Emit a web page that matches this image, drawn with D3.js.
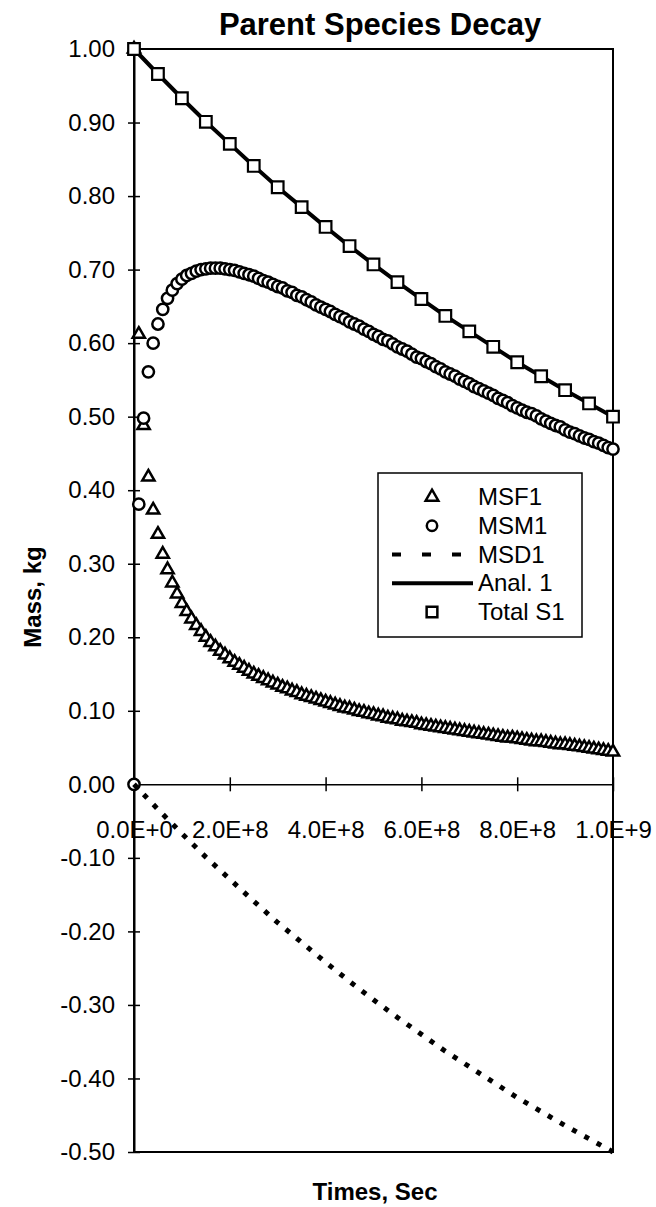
<!DOCTYPE html>
<html>
<head>
<meta charset="utf-8">
<script src="https://cdn.jsdelivr.net/npm/d3@7"></script>
<style>
  body { margin: 0; background: #fff; }
  text { font-family: "Liberation Sans", Arial, sans-serif; fill: #000; }
</style>
</head>
<body>
<div id="chart"></div>
<script>
var W = 656, H = 1207;

// time in units of 1e7 s
var tSteps = [0,1,2,3,4,5,6,7,8,9,10,11,12,13,14,15,16,17,18,19,20,
  21,22,23,24,25,26,27,28,29,30,31,32,33,34,35,36,37,38,39,40,
  41,42,43,44,45,46,47,48,49,50,51,52,53,54,55,56,57,58,59,60,
  61,62,63,64,65,66,67,68,69,70,71,72,73,74,75,76,77,78,79,80,
  81,82,83,84,85,86,87,88,89,90,91,92,93,94,95,96,97,98,99,100];

var msf1 = [1.000,0.612,0.488,0.418,0.373,0.340,0.313,0.292,0.274,0.259,0.246,
  0.235,0.225,0.216,0.208,0.200,0.193,0.187,0.181,0.176,0.171,
  0.166,0.162,0.158,0.154,0.150,0.147,0.144,0.141,0.138,0.135,
  0.132,0.130,0.127,0.125,0.122,0.120,0.118,0.116,0.114,0.112,
  0.110,0.108,0.106,0.104,0.103,0.101,0.099,0.098,0.096,0.095,
  0.093,0.092,0.090,0.089,0.088,0.086,0.085,0.084,0.083,0.081,
  0.080,0.079,0.078,0.077,0.076,0.075,0.074,0.073,0.072,0.071,
  0.070,0.069,0.068,0.067,0.066,0.065,0.064,0.063,0.063,0.062,
  0.061,0.060,0.059,0.058,0.058,0.057,0.056,0.055,0.054,0.054,
  0.053,0.052,0.051,0.050,0.049,0.048,0.047,0.046,0.045,0.044];

var msm1 = [0.000,0.381,0.498,0.561,0.600,0.626,0.646,0.661,0.672,0.681,0.687,
  0.692,0.695,0.698,0.700,0.701,0.702,0.702,0.702,0.701,0.700,
  0.699,0.697,0.695,0.693,0.691,0.688,0.685,0.683,0.680,0.677,
  0.675,0.671,0.669,0.665,0.663,0.659,0.656,0.652,0.649,0.646,
  0.643,0.639,0.636,0.633,0.629,0.626,0.623,0.619,0.616,0.612,
  0.609,0.605,0.603,0.599,0.595,0.592,0.589,0.585,0.581,0.579,
  0.575,0.572,0.568,0.565,0.561,0.558,0.555,0.551,0.548,0.545,
  0.541,0.538,0.535,0.532,0.529,0.525,0.522,0.519,0.515,0.512,
  0.509,0.506,0.504,0.501,0.497,0.494,0.491,0.488,0.486,0.482,
  0.479,0.477,0.474,0.471,0.469,0.466,0.464,0.461,0.458,0.456];

// coarser series, time in units of 1e7 s
var tTotal = [0,5,10,15,20,25,30,35,40,45,50,55,60,65,70,75,80,85,90,95,100];
var totalS1 = [1.000,0.966,0.933,0.901,0.871,0.841,0.812,0.785,0.758,0.732,0.707,
  0.683,0.660,0.637,0.616,0.595,0.574,0.555,0.536,0.518,0.500];
var anal1 = [1.000,0.966,0.933,0.901,0.871,0.841,0.812,0.785,0.758,0.732,0.707,
  0.683,0.660,0.637,0.616,0.595,0.574,0.555,0.536,0.518,0.500];
var msd1 = [0.000,-0.034,-0.067,-0.099,-0.129,-0.159,-0.188,-0.215,-0.242,-0.268,-0.293,
  -0.317,-0.340,-0.363,-0.384,-0.405,-0.426,-0.445,-0.464,-0.482,-0.500];

var xTicks = [0, 2e8, 4e8, 6e8, 8e8, 1e9];
var yTicks = [1.0,0.9,0.8,0.7,0.6,0.5,0.4,0.3,0.2,0.1,0.0,-0.1,-0.2,-0.3,-0.4,-0.5];
var legendLabels = ["MSF1","MSM1","MSD1","Anal. 1","Total S1"];

var svg = d3.select("#chart").append("svg").attr("width", W).attr("height", H);

var x = d3.scaleLinear().domain([0, 1e9]).range([134, 613]);
var y = d3.scaleLinear().domain([-0.5, 1.0]).range([1152, 49]);

function sci(d) {
  if (d === 0) return "0.0E+0";
  var e = Math.floor(Math.log10(d));
  return (d / Math.pow(10, e)).toFixed(1) + "E+" + e;
}

// frame
svg.append("rect")
  .attr("x", x(0)).attr("y", y(1))
  .attr("width", x(1e9) - x(0)).attr("height", y(-0.5) - y(1))
  .attr("fill", "none").attr("stroke", "#000").attr("stroke-width", 2);

// y axis
var yAx = svg.append("g").attr("transform", "translate(" + x(0) + ",0)")
  .call(d3.axisLeft(y).tickValues(yTicks).tickSizeInner(6).tickSizeOuter(0).tickPadding(13)
    .tickFormat(function(d) { return d.toFixed(2); }));
yAx.select(".domain").attr("stroke-width", 2);
yAx.selectAll(".tick line").attr("x1", 6).attr("x2", -6).attr("stroke-width", 1.5);
yAx.selectAll(".tick text").attr("font-size", 24).attr("font-family", "Liberation Sans, Arial");

// x axis at zero
var xAx = svg.append("g").attr("transform", "translate(0," + y(0) + ")")
  .call(d3.axisBottom(x).tickValues(xTicks).tickSizeInner(6).tickSizeOuter(0).tickPadding(31)
    .tickFormat(sci));
xAx.select(".domain").attr("stroke-width", 1.5);
xAx.selectAll(".tick line").attr("y1", -7).attr("y2", 7).attr("stroke-width", 1.5);
xAx.selectAll(".tick text").attr("font-size", 24).attr("font-family", "Liberation Sans, Arial");

var plot = svg.append("g");

function markers(ts, vals, type, size, sw) {
  var sym = d3.symbol().type(type).size(size);
  plot.append("g").selectAll("path").data(vals).join("path")
    .attr("transform", function(d, i) { return "translate(" + x(ts[i] * 1e7) + "," + y(d) + ")"; })
    .attr("d", sym)
    .attr("fill", "#fff").attr("stroke", "#000").attr("stroke-width", sw);
}

markers(tSteps, msf1, d3.symbolTriangle, 65, 2.5);
markers(tSteps, msm1, d3.symbolCircle, 100, 2.5);

var line = function(ts) {
  return d3.line().x(function(d, i) { return x(ts[i] * 1e7); }).y(function(d) { return y(d); });
};

plot.append("path").datum(msd1).attr("d", line(tTotal))
  .attr("fill", "none").attr("stroke", "#000").attr("stroke-width", 5)
  .attr("stroke-dasharray", "5,9");

plot.append("path").datum(anal1).attr("d", line(tTotal))
  .attr("fill", "none").attr("stroke", "#000").attr("stroke-width", 4);

markers(tTotal, totalS1, d3.symbolSquare, 135, 2.2);

// title and axis titles
svg.append("text").attr("x", 380).attr("y", 35).attr("text-anchor", "middle")
  .attr("font-size", 31).attr("font-weight", "bold").text("Parent Species Decay");
svg.append("text").attr("x", 375).attr("y", 1200).attr("text-anchor", "middle")
  .attr("font-size", 24).attr("font-weight", "bold").text("Times, Sec");
svg.append("text").attr("transform", "translate(41,597) rotate(-90)").attr("text-anchor", "middle")
  .attr("font-size", 24).attr("font-weight", "bold").text("Mass, kg");

// legend
var lg = svg.append("g");
lg.append("rect").attr("x", 378).attr("y", 473).attr("width", 204).attr("height", 164)
  .attr("fill", "#fff").attr("stroke", "#000").attr("stroke-width", 1.5);
var rowY = d3.scalePoint().domain(legendLabels).range([497, 612]);
lg.selectAll("text.lab").data(legendLabels).join("text").attr("class", "lab")
  .attr("x", 478).attr("y", function(d) { return rowY(d) + 8; })
  .attr("font-size", 24).text(function(d) { return d; });
var symTypes = { "MSF1": d3.symbolTriangle, "MSM1": d3.symbolCircle, "Total S1": d3.symbolSquare };
var symSizes = { "MSF1": 70, "MSM1": 85, "Total S1": 115 };
["MSF1", "MSM1", "Total S1"].forEach(function(k) {
  lg.append("path").attr("transform", "translate(432," + rowY(k) + ")")
    .attr("d", d3.symbol().type(symTypes[k]).size(symSizes[k]))
    .attr("fill", "#fff").attr("stroke", "#000").attr("stroke-width", 2.5);
});
lg.append("line").attr("x1", 392).attr("x2", 473).attr("y1", rowY("MSD1")).attr("y2", rowY("MSD1"))
  .attr("stroke", "#000").attr("stroke-width", 4).attr("stroke-dasharray", "9,21");
lg.append("line").attr("x1", 392).attr("x2", 473).attr("y1", rowY("Anal. 1")).attr("y2", rowY("Anal. 1"))
  .attr("stroke", "#000").attr("stroke-width", 4);
</script>
</body>
</html>
